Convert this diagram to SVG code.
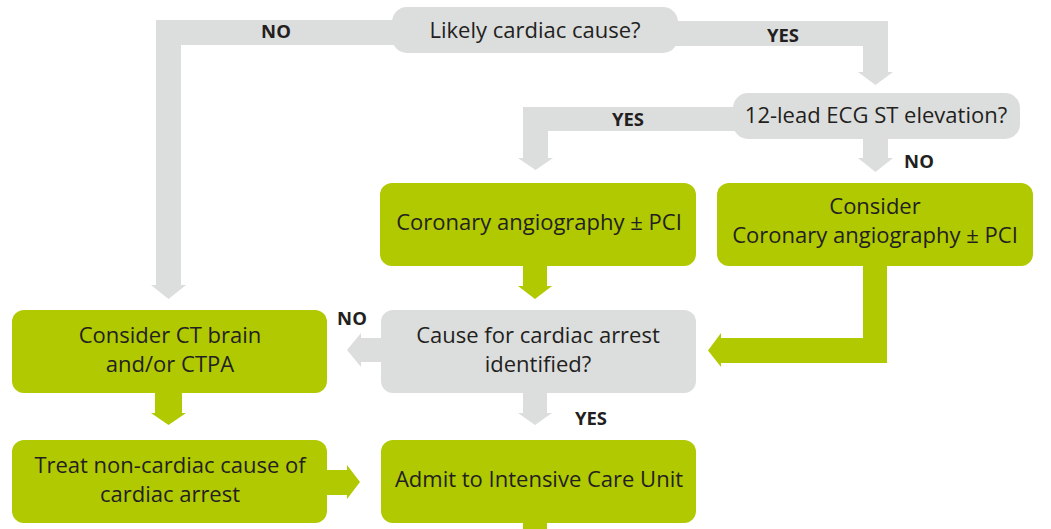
<svg xmlns="http://www.w3.org/2000/svg" width="1051" height="529" viewBox="0 0 1051 529">
<style>
.g{fill:#dcdddd}
.y{fill:#b0c900}
.t{font-family:"Open Sans","Liberation Sans",sans-serif;font-size:22px;fill:#231f20;text-anchor:middle}
.l{font-family:"Open Sans","Liberation Sans",sans-serif;font-size:18.5px;font-weight:bold;fill:#231f20;text-anchor:middle}
</style>
<rect width="1051" height="529" fill="#ffffff"/>
<g id="connectors">
<path class="g" d="M400,20 H156 V285 H151 L168.5,299 L186,285 H181 V45 H400 Z"/>
<path class="g" d="M670,21 H888 V72 H893 L875.5,85 L858,72 H863 V46 H670 Z"/>
<path class="g" d="M740,107 H523 V158 H518 L535.5,170 L553,158 H548 V131 H740 Z"/>
<path class="g" d="M863,135 H888 V158 H893 L875.5,172 L858,158 H863 Z"/>
<path class="y" d="M523,260 H547 V286 H552 L535,299 L518,286 H523 Z"/>
<path class="y" d="M863,260 H887 V363 H721 V367 L708,350.5 L721,333 V338 H863 Z"/>
<path class="g" d="M390,338 V362 H361 V367 L347,350 L361,333 V338 Z"/>
<path class="g" d="M523,385 H547 V413 H552 L535,425 L518,413 H523 Z"/>
<path class="y" d="M155,385 H182 V413 H186 L168.5,425 L151,413 H155 Z"/>
<path class="y" d="M320,470 H347 V465 L360,482 L347,499 V495 H320 Z"/>
<path class="y" d="M523,515 H547 V529 H523 Z"/>
<text class="l" x="276" y="38">NO</text>
<text class="l" x="783" y="42">YES</text>
<text class="l" x="628" y="126">YES</text>
<text class="l" x="919" y="168">NO</text>
<text class="l" x="352" y="325">NO</text>
<text class="l" x="591" y="425">YES</text>
</g>
<g id="n1"><rect class="g" x="392" y="7" width="286" height="46" rx="15"/><text class="t" x="535" y="38">Likely cardiac cause?</text></g>
<g id="n2"><rect class="g" x="733" y="93" width="287" height="46" rx="15"/><text class="t" x="876" y="123">12-lead ECG ST elevation?</text></g>
<g id="n3"><rect class="y" x="380" y="183" width="316" height="83" rx="12"/><text class="t" x="539" y="230">Coronary angiography ± PCI</text></g>
<g id="n4"><rect class="y" x="717" y="183" width="316" height="83" rx="12"/><text class="t" x="875" y="214">Consider</text><text class="t" x="875" y="243">Coronary angiography ± PCI</text></g>
<g id="n5"><rect class="g" x="381" y="310" width="315" height="83" rx="12"/><text class="t" x="538" y="343">Cause for cardiac arrest</text><text class="t" x="538" y="372">identified?</text></g>
<g id="n6"><rect class="y" x="12" y="310" width="315" height="83" rx="12"/><text class="t" x="170" y="343">Consider CT brain</text><text class="t" x="170" y="372">and/or CTPA</text></g>
<g id="n7"><rect class="y" x="12" y="440" width="315" height="83" rx="12"/><text class="t" x="170" y="473">Treat non-cardiac cause of</text><text class="t" x="170" y="502">cardiac arrest</text></g>
<g id="n8"><rect class="y" x="381" y="440" width="315" height="83" rx="12"/><text class="t" x="539" y="487">Admit to Intensive Care Unit</text></g>
</svg>
